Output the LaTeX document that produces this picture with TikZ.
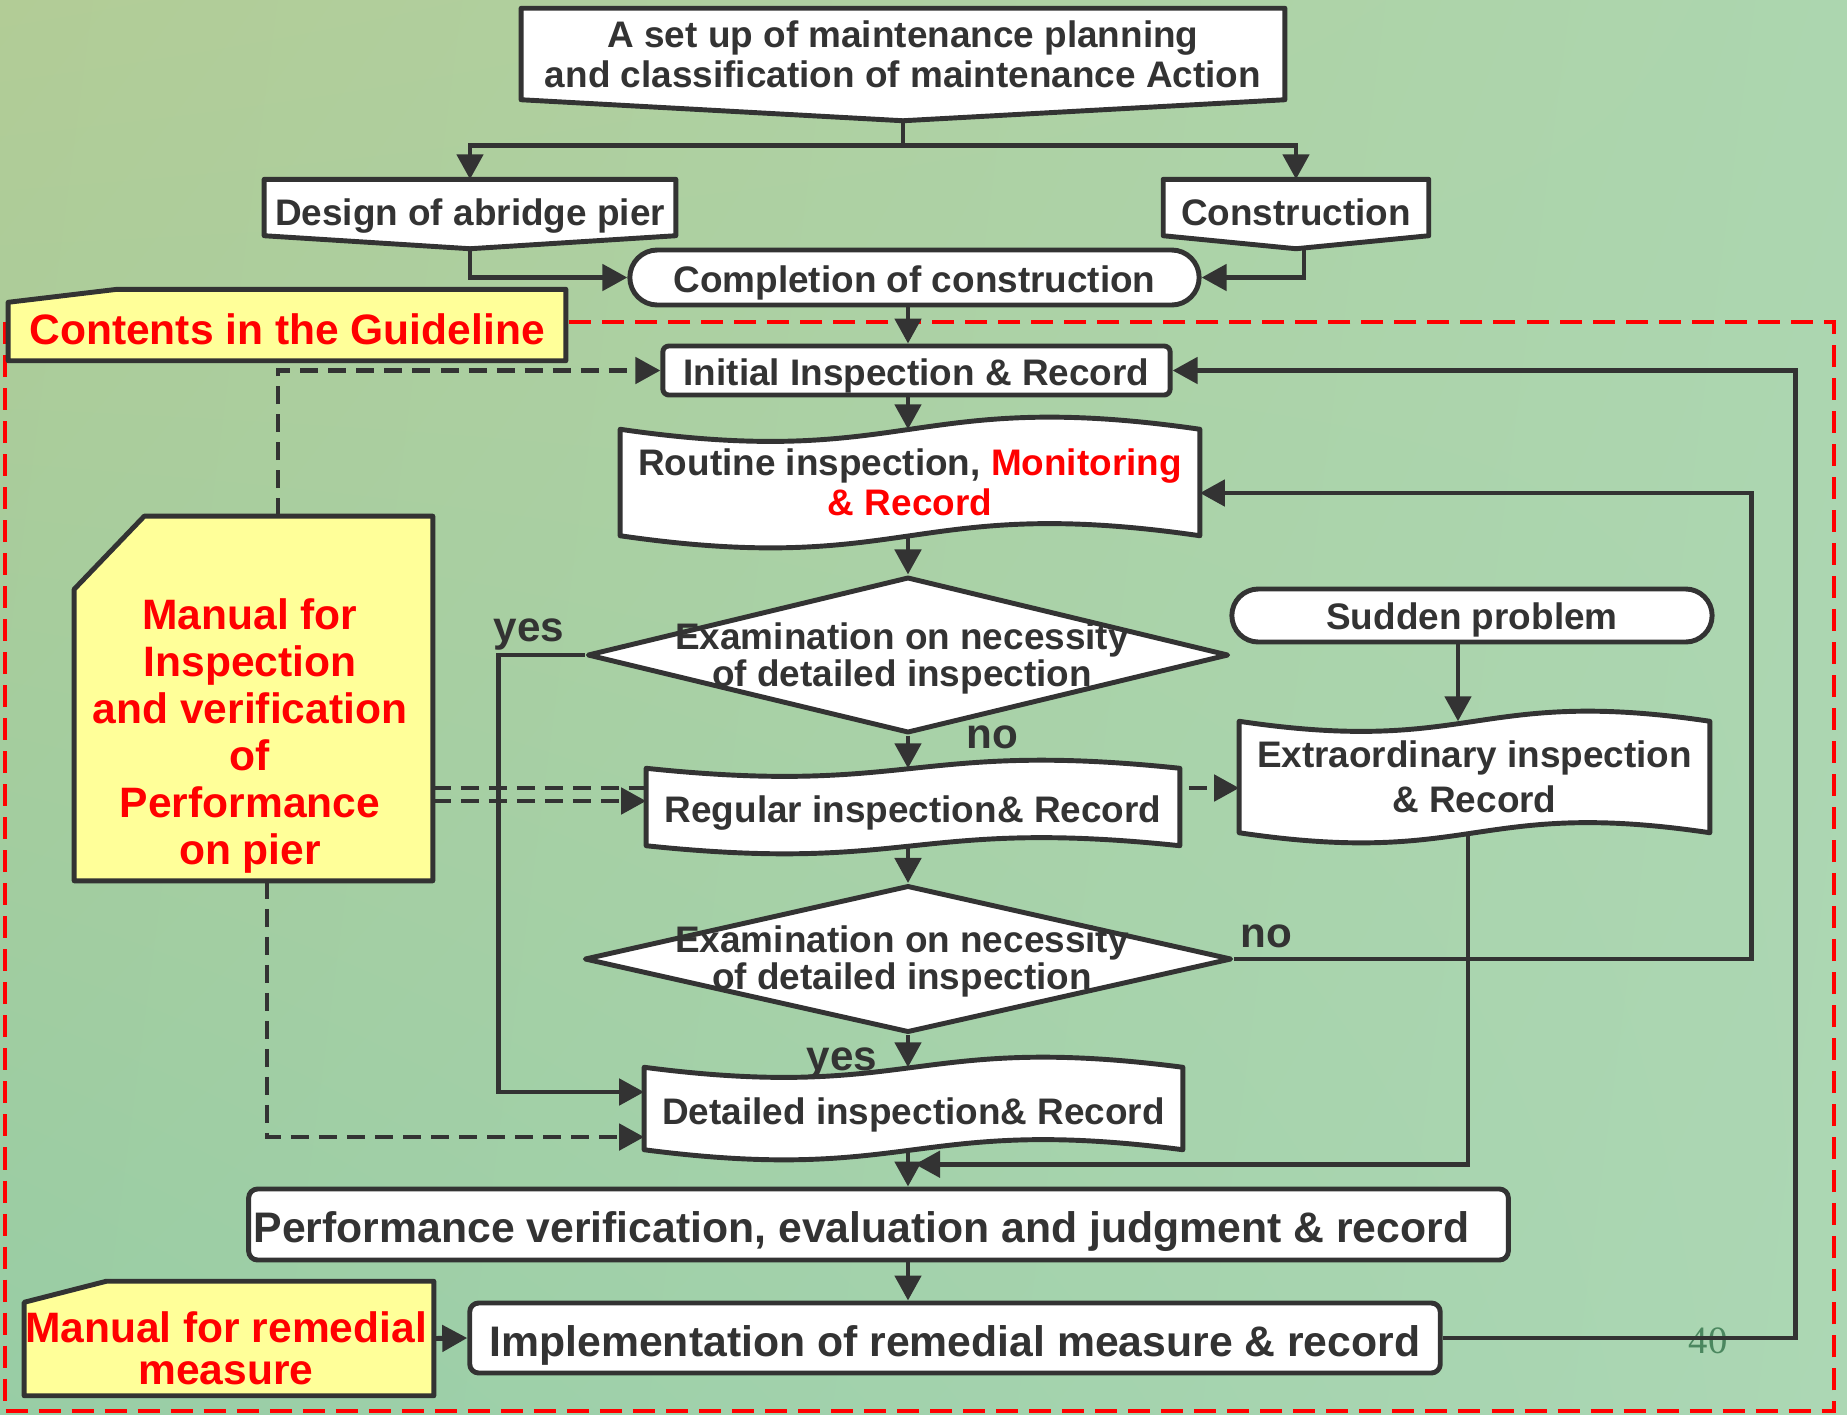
\documentclass[tikz,border=0pt]{standalone}
\usepackage{fontspec}
\setmainfont{Liberation Sans}
\newfontfamily\numfont{Liberation Serif}
\usepackage{tikz}
\usetikzlibrary{positioning,calc,shapes.geometric,arrows.meta,shadings}

\definecolor{linegray}{RGB}{51,51,51}
\definecolor{guidered}{RGB}{255,0,0}
\definecolor{noteyellow}{RGB}{255,255,153}
\definecolor{pagegreen}{RGB}{75,135,95}
\definecolor{bgA}{RGB}{178,204,150}
\definecolor{bgB}{RGB}{172,214,175}
\definecolor{bgC}{RGB}{152,205,165}
\definecolor{bgD}{RGB}{172,215,180}

\pgfdeclarelayer{bg}
\pgfdeclarelayer{frames}
\pgfsetlayers{bg,frames,main}

\tikzset{
	txt/.style={text=linegray,font=\fontsize{10.5}{11.4}\selectfont\bfseries,align=center,inner sep=0pt},
	bigtxt/.style={text=linegray,font=\fontsize{12.15}{13}\selectfont\bfseries,align=center,inner sep=0pt},
	redtxt/.style={text=guidered,font=\fontsize{12.1}{13.4}\selectfont\bfseries,align=center,inner sep=0pt},
	oneline/.style={text height=#1,text depth=0pt},
	oneline/.default=0.3cm,
	boxline/.style={draw=linegray,line width=1.4pt,line join=round},
	roundbox/.style={boxline,fill=white,rounded corners=0.09cm},
	decision/.style={diamond,boxline,fill=white,inner sep=0pt},
	conn/.style={draw=linegray,line width=1.4pt},
	arr/.style={conn,-{Triangle[length=0.25cm,width=0.26cm]}},
	dasharr/.style={arr,dash pattern=on 0.18cm off 0.1cm},
	guideline/.style={draw=guidered,line width=1.2pt,dash pattern=on 0.22cm off 0.11cm}
}

% frame with a pointed bottom
\newcommand\pageframe[2]{%
	\draw[boxline,fill=white] (#1.north west) -- (#1.north east) -- (#1.south east) -- ([yshift=-#2]#1.south) -- (#1.south west) -- cycle;}
% frame with wavy top and bottom
\newcommand\tapeframe[2]{%
	\draw[boxline,fill=white] (#1.south west) -- (#1.north west) .. controls ([yshift=-#2]#1.north) and ([yshift=#2]#1.north) .. (#1.north east)
		-- (#1.south east) .. controls ([yshift=#2]#1.south) and ([yshift=-#2]#1.south) .. (#1.south west) -- cycle;}
% yellow note with a cut corner
\newcommand\cutframe[3]{%
	\draw[boxline,fill=noteyellow] (#1.south west) -- ([yshift=-#3]#1.north west) -- ([xshift=#2]#1.north west) -- (#1.north east) -- (#1.south east) -- cycle;}

\begin{document}
\begin{tikzpicture}[x=0.01cm,y=-0.01cm]
	\useasboundingbox (0,0) rectangle (1847,1414);
	\begin{pgfonlayer}{bg}
		\shade[upper left=bgA,upper right=bgB,lower left=bgC,lower right=bgD] (0,0) rectangle (1847,1414);
	\end{pgfonlayer}

	% top part
	\node[txt,minimum width=7.62cm,minimum height=0.9cm] (plan) at (903,54) {A set up of maintenance planning\\and classification of maintenance Action};
	\node[txt,oneline=0.355cm,minimum width=4.1cm,minimum height=0.55cm] (design) at (470,207.5) {Design of abridge pier};
	\node[txt,oneline=0.355cm,minimum width=2.64cm,minimum height=0.55cm] (build) at (1296,207.5) {Construction};
	\node[roundbox,txt,oneline,minimum width=5.69cm,minimum height=0.55cm,rounded corners=0.275cm] (done) at (914.5,277.5) {Completion of construction};

	% guideline part
	\node[redtxt,oneline=0.38cm,minimum width=5.56cm,minimum height=0.7cm] (guide) at (287,325) {Contents in the Guideline};
	\node[roundbox,txt,oneline,minimum width=5.07cm,minimum height=0.49cm,rounded corners=0.06cm] (initial) at (916.5,370.5) {Initial Inspection \& Record};
	\node[txt,minimum width=5.78cm,minimum height=1.05cm] (routine) at (910,482.5) {Routine inspection, \textcolor{guidered}{Monitoring}\\\textcolor{guidered}{\& Record}};
	\node[decision,minimum width=6.41cm,minimum height=1.56cm] (dec1) at (908,655) {};
	\node[txt,font=\fontsize{10.5}{10.5}\selectfont\bfseries] (dec1txt) at (902,658) {Examination on necessity\\of detailed inspection};
	\node[txt,oneline=0.305cm,minimum width=5.32cm,minimum height=0.76cm] (regular) at (913,807) {Regular inspection\& Record};
	\node[decision,minimum width=6.47cm,minimum height=1.47cm] (dec2) at (908,959) {};
	\node[txt,font=\fontsize{10.5}{10.5}\selectfont\bfseries] (dec2txt) at (902,961) {Examination on necessity\\of detailed inspection};
	\node[roundbox,txt,oneline=0.28cm,minimum width=4.8cm,minimum height=0.53cm,rounded corners=0.265cm] (sudden) at (1472,615.5) {Sudden problem};
	\node[txt,font=\fontsize{10.5}{12.8}\selectfont\bfseries,minimum width=4.69cm,minimum height=1.1cm] (extra) at (1474.5,777) {Extraordinary inspection\\\& Record};
	\node[txt,oneline=0.31cm,minimum width=5.37cm,minimum height=0.81cm] (detailed) at (913.5,1108.5) {Detailed inspection\& Record};
	\node[roundbox,bigtxt,oneline=0.365cm,minimum width=12.59cm,minimum height=0.71cm] (perf) at (878.5,1224.5) {Performance verification, evaluation and judgment \& record\hspace*{0.34cm}};
	\node[roundbox,bigtxt,oneline=0.36cm,minimum width=9.7cm,minimum height=0.7cm] (impl) at (955,1338) {Implementation of remedial measure \& record};
	\node[text=pagegreen,font=\fontsize{11}{11}\selectfont\numfont,inner sep=0pt] (pagenum) at (1708,1341) {40};

	% manuals
	\node[minimum width=3.57cm,minimum height=3.63cm,inner sep=0pt] (manual) at (253.5,698.5) {};
	\node[redtxt] (manualtxt) at (250,736) {Manual for\\Inspection\\and verification\\of\\Performance\\on pier};
	\node[minimum width=4.08cm,minimum height=1.13cm,inner sep=0pt] (remedy) at (229,1338.5) {};
	\node[redtxt,font=\fontsize{12.1}{12}\selectfont\bfseries] (remedytxt) at (226,1348) {Manual for remedial\\measure};

	% labels
	\node[txt,font=\fontsize{12}{12}\selectfont\bfseries] (yes1) at (529,635) {yes};
	\node[txt,font=\fontsize{12}{12}\selectfont\bfseries] (no1) at (992,737) {no};
	\node[txt,font=\fontsize{12}{12}\selectfont\bfseries] (no2) at (1266,936) {no};
	\node[txt,font=\fontsize{12}{12}\selectfont\bfseries] (yes2) at (842,1064) {yes};

	\coordinate (axis) at (908,0);
	\coordinate (extin) at ([yshift=-0.11cm]extra.west);
	\coordinate (regin) at ([yshift=0.06cm]regular.west);

	\begin{pgfonlayer}{frames}
		\draw[guideline] (5,322) rectangle (1834,1411);
		\draw[dasharr] (manual.east |- extin) -- (extin);
		\pageframe{plan}{0.21cm}
		\pageframe{design}{0.13cm}
		\pageframe{build}{0.13cm}
		\cutframe{guide}{1.09cm}{0.13cm}
		\tapeframe{routine}{0.42cm}
		\tapeframe{regular}{0.28cm}
		\tapeframe{extra}{0.35cm}
		\tapeframe{detailed}{0.35cm}
		\cutframe{manual}{0.7cm}{0.73cm}
		\cutframe{remedy}{0.82cm}{0.21cm}
	\end{pgfonlayer}

	% connectors
	\coordinate (plantip) at ([yshift=-0.21cm]plan.south);
	\draw[conn] (plantip) -- ++(0,25) coordinate (fork);
	\draw[arr] (fork) -| (design.north);
	\draw[arr] (fork) -| (build.north);
	\coordinate (designtip) at ([yshift=-0.13cm]design.south);
	\coordinate (buildtip) at ([yshift=-0.13cm,xshift=0.08cm]build.south);
	\draw[arr] (designtip) |- (done.west);
	\draw[arr] (buildtip) |- (done.east);
	\draw[arr] (done.south -| axis) -- (initial.north -| axis);
	\draw[arr] (initial.south -| axis) -- (routine.north -| axis);
	\draw[arr] (routine.south -| axis) -- (dec1.north);
	\draw[arr] (dec1.south) -- (regular.north -| axis);
	\draw[arr] (regular.south -| axis) -- (dec2.north);
	\draw[arr] (dec2.south) -- (detailed.north -| axis);
	\draw[arr] (detailed.south -| axis) -- (perf.north -| axis);
	\draw[arr] (perf.south -| axis) -- (impl.north -| axis);

	\coordinate (yesin) at ([yshift=0.165cm]detailed.west);
	\draw[arr] (dec1.west) -- ++(-86,0) |- (yesin);
	\coordinate (noin) at ([yshift=-0.105cm]routine.east);
	\draw[arr] (dec2.east) -- ++(517,0) |- (noin);
	\draw[arr] ([xshift=-0.14cm]sudden.south) -- ([xshift=-0.14cm]sudden.south |- extra.north);
	\coordinate (merge) at ([yshift=-0.145cm]detailed.south -| axis);
	\draw[arr] ([xshift=-0.065cm]extra.south) |- ([xshift=0.07cm]merge);
	\draw[arr] (remedy.east) -- (impl.west);
	\draw[arr] (impl.east) -- ++(353,0) |- (initial.east);

	\draw[dasharr] ([xshift=0.245cm]manual.north) |- (initial.west);
	\coordinate (lowin) at ([yshift=-0.285cm]detailed.west);
	\draw[dasharr] ([xshift=0.135cm]manual.south) |- (lowin);
	\draw[dasharr] (manual.east |- regin) -- (regin);
\end{tikzpicture}
\end{document}
